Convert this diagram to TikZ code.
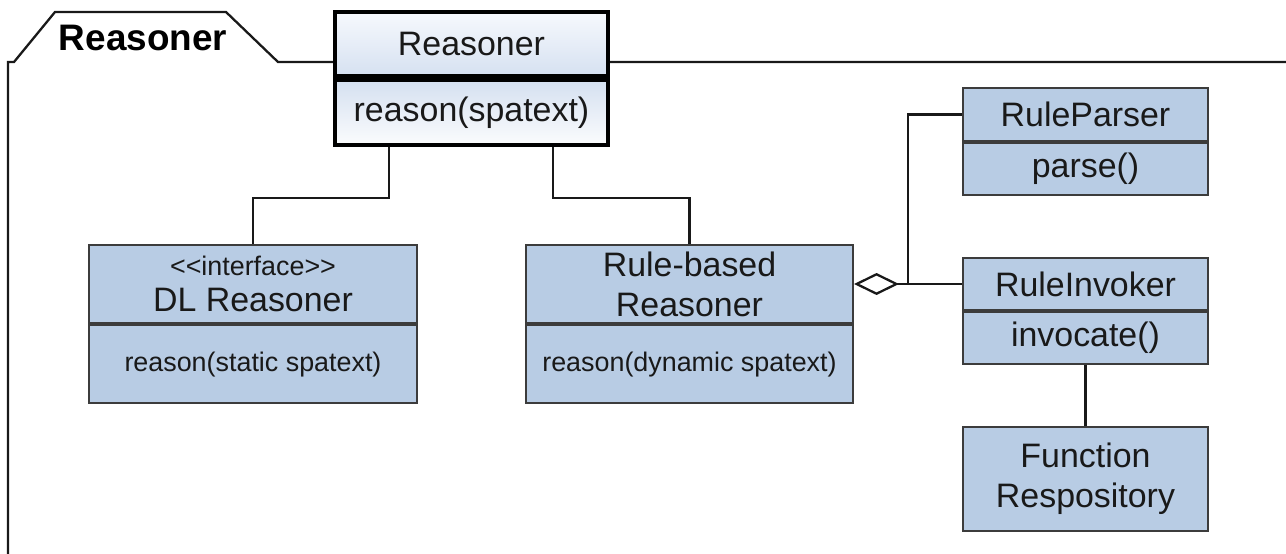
\documentclass[tikz,border=0pt]{standalone}
\usepackage{fontspec}
\setmainfont{Liberation Sans}
\usepackage{xcolor}
\usepackage{tikz}
\usetikzlibrary{arrows.meta, positioning}
\definecolor{clsblue}{RGB}{184,204,228}
\definecolor{clsline}{RGB}{60,60,60}
\definecolor{paleblue}{RGB}{246,249,253}
\definecolor{midblue}{RGB}{214,225,241}
\definecolor{inkgrey}{RGB}{25,25,25}

\begin{document}
\begin{tikzpicture}[
  x=0.02cm, y=-0.02cm,
  every node/.style={font=\fontsize{19.3}{22.7}\selectfont, text=inkgrey},
  cls/.style={draw=clsline, line width=1.2pt, fill=clsblue, inner sep=0pt,
              align=center},
  small/.style={font=\fontsize{15.3}{18}\selectfont},
  main/.style={draw=black, line width=2.3pt, inner sep=0pt, align=center,
               minimum width=5.46cm},
  link/.style={draw=black!90, line width=1.3pt},
  agg/.style={link, {Diamond[open, length=0.9cm, width=0.44cm, line width=1.3pt]}-}
]
\useasboundingbox (0,0) rectangle (1286,554);

% package frame with its tab
\draw[link] (8,554) -- (8,62) -- (14,62) -- (55,12) -- (226,12) -- (278,62) -- (1286,62);
\node[font=\fontsize{21}{24}\selectfont\bfseries, text=black] (tab) at (143,38) {Reasoner};

% top class
\node[main, minimum height=1.28cm, top color=paleblue, bottom color=midblue]
  (rsnT) at (471.5,44) {Reasoner};
\node[main, minimum height=1.3cm, top color=midblue!95!clsblue, bottom color=clsblue!95!black!5,
      below=0pt of rsnT] (rsnM) {reason(spatext)};

% DL reasoner
\node[cls, minimum width=6.56cm, minimum height=1.56cm] (dlT) at (253,284)
  {{\fontsize{15.3}{17}\selectfont {<}{<}interface{>}{>}}\\[-2pt] DL Reasoner};
\node[cls, small, minimum width=6.56cm, minimum height=1.56cm, below=0pt of dlT]
  (dlM) {reason(static spatext)};

% rule-based reasoner
\node[cls, minimum width=6.54cm, minimum height=1.56cm] (rbT) at (689.5,284)
  {Rule-based\\ Reasoner};
\node[cls, small, minimum width=6.54cm, minimum height=1.56cm, below=0pt of rbT]
  (rbM) {reason(dynamic spatext)};

% rule parser / invoker / repository
\node[cls, minimum width=4.9cm, minimum height=1.06cm] (rpT) at (1085.5,114.5) {RuleParser};
\node[cls, minimum width=4.9cm, minimum height=1.04cm, below=0pt of rpT] (rpM) {parse()};
\node[cls, minimum width=4.9cm, minimum height=1.04cm] (riT) at (1085.5,284) {RuleInvoker};
\node[cls, minimum width=4.9cm, minimum height=1.04cm, below=0pt of riT] (riM) {invocate()};
\node[cls, minimum width=4.9cm, minimum height=2.08cm] (fnR) at (1085.5,479)
  {Function\\ Respository};

% connectors
\draw[link] ([xshift=-1.65cm]rsnM.south) -- ++(0,51) -| (dlT.north);
\draw[link] ([xshift=1.63cm]rsnM.south) -- ++(0,51) -| (rbT.north);
\draw[agg] (rbT.east) -- coordinate[midway] (jn) (riT.west);
\draw[link] (jn) |- (rpT.west);
\draw[link] (riM.south) -- (fnR.north);
\end{tikzpicture}
\end{document}
